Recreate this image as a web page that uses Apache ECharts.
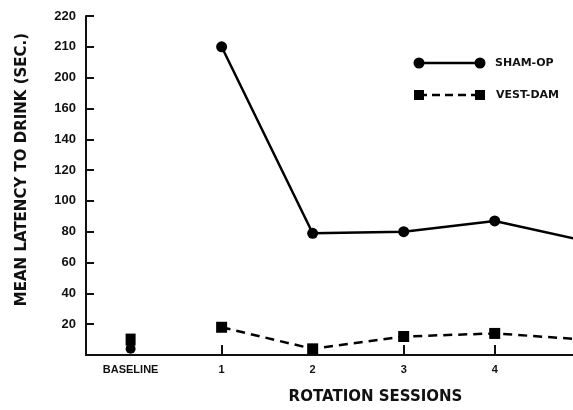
<!DOCTYPE html>
<html>
<head>
<meta charset="utf-8">
<script src="https://cdn.jsdelivr.net/npm/echarts@6/dist/echarts.min.js"></script>
<style>
  html, body { margin: 0; padding: 0; background: #fff; }
  #chart { width: 573px; height: 410px; }
</style>
</head>
<body>
<div id="chart"></div>
<script>
var chart = echarts.init(document.getElementById('chart'));

// x positions: 0 = baseline, 1..5 = rotation sessions (5 runs off the right edge)
var sessions = [1, 2, 3, 4, 5];
var shamOp = [200, 79, 80, 87, 74];
var vestDam = [18, 4, 12, 14, 10];
var shamBaseline = 4;
var vestBaseline = 10;
// printed tick labels (the original axis reads 220, 210, 200, 160 ...)
var yTickLabels = { 220: '220', 200: '210', 180: '200', 160: '160', 140: '140', 120: '120', 100: '100', 80: '80', 60: '60', 40: '40', 20: '20' };
var xLabelValues = [0, 1, 2, 3, 4];
var xTickValues = [1, 2, 3, 4];

var font = 'Liberation Sans';
var titleFont = 'DejaVu Sans';

function pairs(xs, ys) {
  return xs.map(function (x, i) { return [x, ys[i]]; });
}

var option = {
  backgroundColor: '#fff',
  animation: false,
  grid: { left: 86, right: 0, top: 16, bottom: 53 },
  xAxis: {
    type: 'value',
    min: -0.49,
    max: 4.86,
    name: 'ROTATION SESSIONS',
    nameLocation: 'middle',
    nameGap: 35,
    nameTextStyle: { fontFamily: titleFont, fontWeight: 'bold', fontSize: 15, color: '#111', padding: [0, 0, 0, 92] },
    axisLine: { onZero: false, lineStyle: { color: '#111', width: 2 } },
    axisTick: { show: true, inside: true, length: 10, customValues: xTickValues, lineStyle: { color: '#111', width: 2 } },
    axisLabel: {
      customValues: xLabelValues,
      margin: 9,
      fontFamily: font, fontWeight: 'bold', fontSize: 11, color: '#111',
      formatter: function (v) { return v === 0 ? 'BASELINE' : String(v); }
    },
    splitLine: { show: false }
  },
  yAxis: {
    type: 'value',
    min: 0,
    max: 220,
    interval: 20,
    name: 'MEAN LATENCY TO DRINK (SEC.)',
    nameLocation: 'middle',
    nameRotate: 90,
    nameGap: 56,
    nameTextStyle: { fontFamily: titleFont, fontWeight: 'bold', fontSize: 15, color: '#111', padding: [0, 0, 0, 32] },
    axisLine: { show: true, onZero: false, lineStyle: { color: '#111', width: 2 } },
    axisTick: { show: true, inside: true, length: 8, lineStyle: { color: '#111', width: 2 } },
    axisLabel: {
      margin: 10,
      fontFamily: font, fontWeight: 'bold', fontSize: 13, color: '#111',
      formatter: function (v) { return yTickLabels[v] || ''; }
    },
    splitLine: { show: false }
  },
  series: [{
    name: 'SHAM-OP',
    type: 'line',
    clip: true,
    data: pairs(sessions, shamOp),
    symbol: 'circle',
    symbolSize: 11,
    itemStyle: { color: '#000' },
    lineStyle: { color: '#000', width: 2.5 }
  }, {
    name: 'VEST-DAM',
    type: 'line',
    clip: true,
    data: pairs(sessions, vestDam),
    symbol: 'rect',
    symbolSize: 11,
    itemStyle: { color: '#000' },
    lineStyle: { color: '#000', width: 2.5, type: [9, 6] }
  }, {
    name: 'VEST-DAM baseline',
    type: 'scatter',
    data: [[0, vestBaseline]],
    symbol: 'rect',
    symbolSize: [10, 12],
    itemStyle: { color: '#000', opacity: 1 }
  }, {
    name: 'SHAM-OP baseline',
    type: 'scatter',
    data: [[0, shamBaseline]],
    symbol: 'circle',
    symbolSize: 10,
    itemStyle: { color: '#000', opacity: 1 }
  }],
  graphic: [
    { type: 'line', shape: { x1: 419, y1: 63, x2: 480, y2: 63 }, style: { stroke: '#000', lineWidth: 2.5 } },
    { type: 'circle', shape: { cx: 419, cy: 63, r: 5.5 }, style: { fill: '#000' } },
    { type: 'circle', shape: { cx: 480, cy: 63, r: 5.5 }, style: { fill: '#000' } },
    { type: 'text', x: 495, y: 63, style: { text: 'SHAM-OP', fill: '#111', font: 'bold 11px "DejaVu Sans"', verticalAlign: 'middle' } },
    { type: 'line', shape: { x1: 419, y1: 95, x2: 480, y2: 95 }, style: { stroke: '#000', lineWidth: 2.5, lineDash: [8, 5] } },
    { type: 'rect', shape: { x: 414, y: 90, width: 10, height: 10 }, style: { fill: '#000' } },
    { type: 'rect', shape: { x: 475, y: 90, width: 10, height: 10 }, style: { fill: '#000' } },
    { type: 'text', x: 496, y: 95, style: { text: 'VEST-DAM', fill: '#111', font: 'bold 11px "DejaVu Sans"', verticalAlign: 'middle' } }
  ]
};

chart.setOption(option);

window.addEventListener('resize', function () {
  chart.resize();
});
</script>
</body>
</html>
